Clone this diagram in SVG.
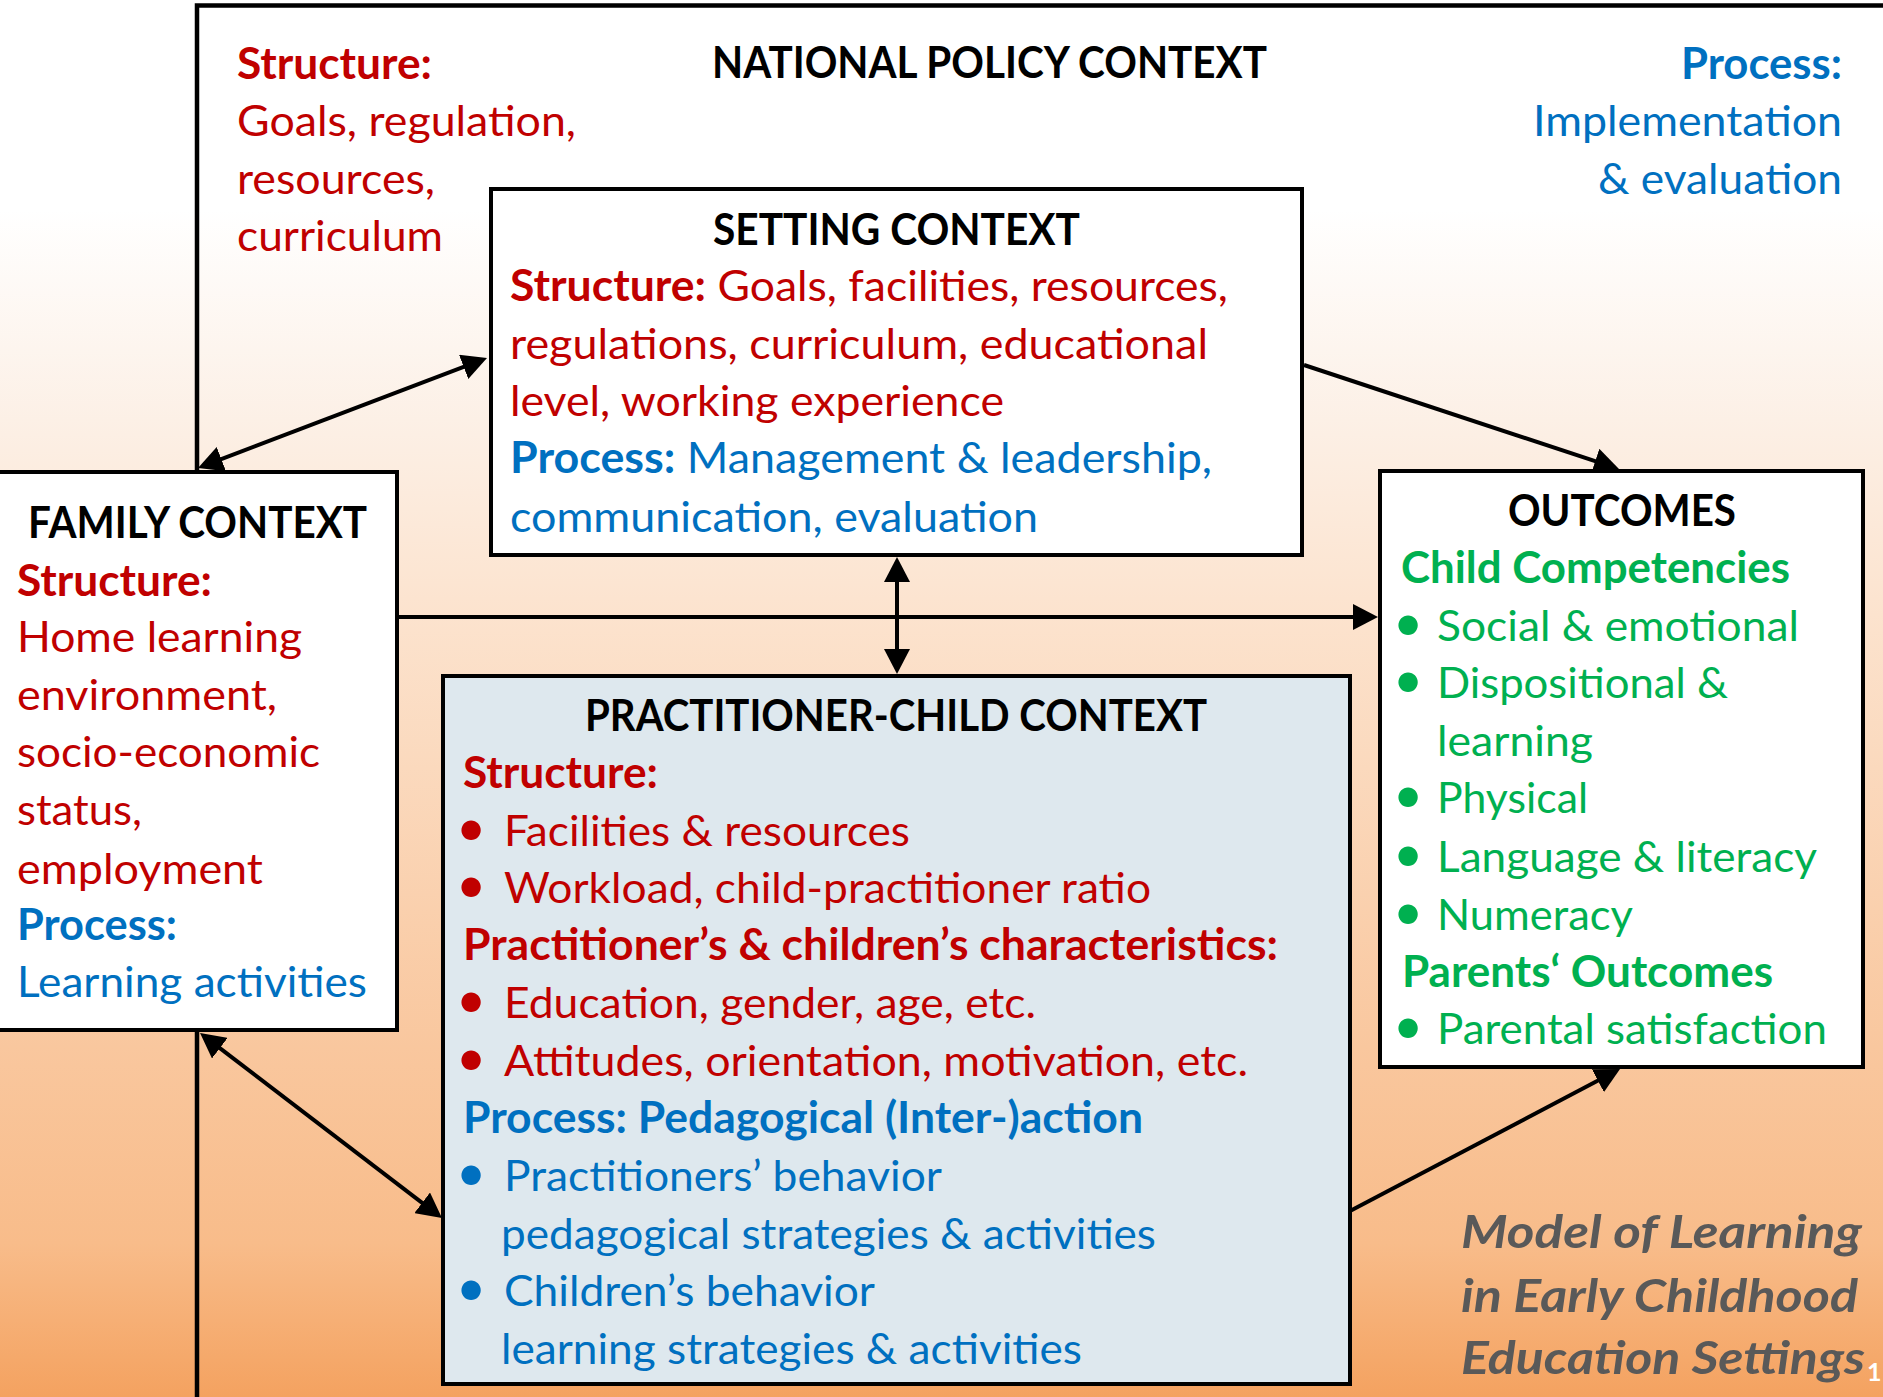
<svg xmlns="http://www.w3.org/2000/svg" width="1883" height="1397" viewBox="0 0 1883 1397">
  <defs>
    <linearGradient id="bg" x1="0" y1="0" x2="0" y2="1">
      <stop offset="0" stop-color="#FFFFFF"/>
      <stop offset="0.15" stop-color="#FFFFFF"/>
      <stop offset="0.30" stop-color="#FCF0E6"/>
      <stop offset="0.44" stop-color="#FCE3CE"/>
      <stop offset="0.75" stop-color="#F9C79E"/>
      <stop offset="0.89" stop-color="#F8BC8A"/>
      <stop offset="1" stop-color="#F4A260"/>
    </linearGradient>
    <marker id="ah" viewBox="0 0 25 26" markerWidth="25" markerHeight="26" refX="19" refY="13" orient="auto-start-reverse" markerUnits="userSpaceOnUse">
      <path d="M0,0 L25,13 L0,26 z" fill="#000"/>
    </marker>
    <style>
      .t { font-family: Lato, "Open Sans", "Liberation Sans", sans-serif; font-size: 43px; }
      .b { font-weight: 700; }
      .red { fill: #C00000; }
      .blue { fill: #0070C0; }
      .green { fill: #00B050; }
      .blk { fill: #000000; }
      .bul { font-family: Lato, "Liberation Sans", sans-serif; font-size: 52px; text-anchor: middle; }
      .cap { font-family: Lato, "Open Sans", "Liberation Sans", sans-serif; font-size: 46px; font-weight: 700; font-style: italic; fill: #595959; }
      .box { stroke: #000; stroke-width: 4; }
      .frame { fill: none; stroke: #000; stroke-width: 4.5; }
      .conn { fill: none; stroke: #000; stroke-width: 4; }
    </style>
  </defs>

  <!-- backdrop -->
  <rect x="0" y="0" width="1883" height="1397" fill="url(#bg)"/>

  <!-- national policy frame -->
  <g id="national-policy">
    <path class="frame" d="M197,1400 V5.5 H1890"/>
    <text class="t b red" x="237" y="79" textLength="195" lengthAdjust="spacingAndGlyphs">Structure:</text>
    <text class="t red" x="237" y="136" textLength="339" lengthAdjust="spacingAndGlyphs">Goals, regulation,</text>
    <text class="t red" x="237" y="194" textLength="198" lengthAdjust="spacingAndGlyphs">resources,</text>
    <text class="t red" x="237" y="251" textLength="206" lengthAdjust="spacingAndGlyphs">curriculum</text>
    <text class="t b blk" x="712" y="78" textLength="555" lengthAdjust="spacingAndGlyphs">NATIONAL POLICY CONTEXT</text>
    <text class="t b blue" x="1842" y="79" text-anchor="end" textLength="161" lengthAdjust="spacingAndGlyphs">Process:</text>
    <text class="t blue" x="1842" y="136" text-anchor="end" textLength="309" lengthAdjust="spacingAndGlyphs">Implementation</text>
    <text class="t blue" x="1842" y="194" text-anchor="end" textLength="244" lengthAdjust="spacingAndGlyphs">&amp; evaluation</text>
  </g>

  <!-- connectors -->
  <g id="connectors">
    <line class="conn" x1="203.6" y1="465.9" x2="481.4" y2="360.1" marker-start="url(#ah)" marker-end="url(#ah)"/>
    <line class="conn" x1="1304" y1="365" x2="1613.3" y2="467.1" marker-end="url(#ah)"/>
    <line class="conn" x1="397" y1="617" x2="1372" y2="617" marker-end="url(#ah)"/>
    <line class="conn" x1="897" y1="563" x2="897" y2="668" marker-start="url(#ah)" marker-end="url(#ah)"/>
    <line class="conn" x1="204.8" y1="1036.6" x2="437.2" y2="1214.4" marker-start="url(#ah)" marker-end="url(#ah)"/>
    <line class="conn" x1="1350" y1="1211" x2="1614.7" y2="1071.8" marker-end="url(#ah)"/>
  </g>

  <!-- setting context -->
  <g id="setting-context">
    <rect class="box" x="491" y="189" width="811" height="366" fill="#FFFFFF"/>
    <text class="t b blk" x="713" y="245" textLength="367" lengthAdjust="spacingAndGlyphs">SETTING CONTEXT</text>
    <text class="t red" x="510" y="301" textLength="718" lengthAdjust="spacingAndGlyphs"><tspan class="b">Structure:</tspan> Goals, facilities, resources,</text>
    <text class="t red" x="510" y="359" textLength="698" lengthAdjust="spacingAndGlyphs">regulations, curriculum, educational</text>
    <text class="t red" x="510" y="416" textLength="494" lengthAdjust="spacingAndGlyphs">level, working experience</text>
    <text class="t blue" x="510" y="473" textLength="702" lengthAdjust="spacingAndGlyphs"><tspan class="b">Process:</tspan> Management &amp; leadership,</text>
    <text class="t blue" x="510" y="532" textLength="528" lengthAdjust="spacingAndGlyphs">communication, evaluation</text>
  </g>

  <!-- family context -->
  <g id="family-context">
    <rect class="box" x="-10" y="472" width="407" height="558" fill="#FFFFFF"/>
    <text class="t b blk" x="28" y="538" textLength="339" lengthAdjust="spacingAndGlyphs">FAMILY CONTEXT</text>
    <text class="t b red" x="17" y="596" textLength="195" lengthAdjust="spacingAndGlyphs">Structure:</text>
    <text class="t red" x="17" y="652" textLength="285" lengthAdjust="spacingAndGlyphs">Home learning</text>
    <text class="t red" x="17" y="710" textLength="260" lengthAdjust="spacingAndGlyphs">environment,</text>
    <text class="t red" x="17" y="767" textLength="303" lengthAdjust="spacingAndGlyphs">socio-economic</text>
    <text class="t red" x="17" y="825" textLength="125" lengthAdjust="spacingAndGlyphs">status,</text>
    <text class="t red" x="17" y="884" textLength="246" lengthAdjust="spacingAndGlyphs">employment</text>
    <text class="t b blue" x="17" y="940" textLength="160" lengthAdjust="spacingAndGlyphs">Process:</text>
    <text class="t blue" x="17" y="997" textLength="350" lengthAdjust="spacingAndGlyphs">Learning activities</text>
  </g>

  <!-- outcomes -->
  <g id="outcomes">
    <rect class="box" x="1380" y="471" width="483" height="596" fill="#FFFFFF"/>
    <text class="t b blk" x="1508" y="526" textLength="228" lengthAdjust="spacingAndGlyphs">OUTCOMES</text>
    <text class="t b green" x="1401" y="583" textLength="389" lengthAdjust="spacingAndGlyphs">Child Competencies</text>
    <text class="bul green" x="1408" y="641">•</text>
    <text class="t green" x="1437" y="641" textLength="362" lengthAdjust="spacingAndGlyphs">Social &amp; emotional</text>
    <text class="bul green" x="1408" y="698">•</text>
    <text class="t green" x="1437" y="698" textLength="291" lengthAdjust="spacingAndGlyphs">Dispositional &amp;</text>
    <text class="t green" x="1437" y="756" textLength="156" lengthAdjust="spacingAndGlyphs">learning</text>
    <text class="bul green" x="1408" y="813">•</text>
    <text class="t green" x="1437" y="813" textLength="151" lengthAdjust="spacingAndGlyphs">Physical</text>
    <text class="bul green" x="1408" y="872">•</text>
    <text class="t green" x="1437" y="872" textLength="380" lengthAdjust="spacingAndGlyphs">Language &amp; literacy</text>
    <text class="bul green" x="1408" y="930">•</text>
    <text class="t green" x="1437" y="930" textLength="196" lengthAdjust="spacingAndGlyphs">Numeracy</text>
    <text class="t b green" x="1402" y="987" textLength="371" lengthAdjust="spacingAndGlyphs">Parents‘ Outcomes</text>
    <text class="bul green" x="1408" y="1044">•</text>
    <text class="t green" x="1437" y="1044" textLength="390" lengthAdjust="spacingAndGlyphs">Parental satisfaction</text>
  </g>

  <!-- practitioner-child context -->
  <g id="practitioner-child-context">
    <rect class="box" x="443" y="676" width="907" height="708" fill="#DEE8EE"/>
    <text class="t b blk" x="585" y="731" textLength="622" lengthAdjust="spacingAndGlyphs">PRACTITIONER-CHILD CONTEXT</text>
    <text class="t b red" x="463" y="788" textLength="195" lengthAdjust="spacingAndGlyphs">Structure:</text>
    <text class="bul red" x="471" y="846">•</text>
    <text class="t red" x="504" y="846" textLength="406" lengthAdjust="spacingAndGlyphs">Facilities &amp; resources</text>
    <text class="bul red" x="471" y="903">•</text>
    <text class="t red" x="504" y="903" textLength="647" lengthAdjust="spacingAndGlyphs">Workload, child-practitioner ratio</text>
    <text class="t b red" x="463" y="960" textLength="815" lengthAdjust="spacingAndGlyphs">Practitioner’s &amp; children’s characteristics:</text>
    <text class="bul red" x="471" y="1018">•</text>
    <text class="t red" x="504" y="1018" textLength="532" lengthAdjust="spacingAndGlyphs">Education, gender, age, etc.</text>
    <text class="bul red" x="471" y="1076">•</text>
    <text class="t red" x="504" y="1076" textLength="744" lengthAdjust="spacingAndGlyphs">Attitudes, orientation, motivation, etc.</text>
    <text class="t b blue" x="463" y="1133" textLength="680" lengthAdjust="spacingAndGlyphs">Process: Pedagogical (Inter-)action</text>
    <text class="bul blue" x="471" y="1191">•</text>
    <text class="t blue" x="504" y="1191" textLength="438" lengthAdjust="spacingAndGlyphs">Practitioners’ behavior</text>
    <text class="t blue" x="501" y="1249" textLength="655" lengthAdjust="spacingAndGlyphs">pedagogical strategies &amp; activities</text>
    <text class="bul blue" x="471" y="1306">•</text>
    <text class="t blue" x="504" y="1306" textLength="371" lengthAdjust="spacingAndGlyphs">Children’s behavior</text>
    <text class="t blue" x="501" y="1364" textLength="581" lengthAdjust="spacingAndGlyphs">learning strategies &amp; activities</text>
  </g>

  <!-- model title -->
  <g id="model-title">
    <text class="cap" x="1461" y="1248" textLength="401" lengthAdjust="spacingAndGlyphs">Model of Learning</text>
    <text class="cap" x="1461" y="1312" textLength="397" lengthAdjust="spacingAndGlyphs">in Early Childhood</text>
    <text class="cap" x="1461" y="1374" textLength="404" lengthAdjust="spacingAndGlyphs">Education Settings</text>
    <text x="1867" y="1381" font-family="Lato, 'Liberation Sans', sans-serif" font-size="25" font-weight="700" fill="#FFFFFF">1</text>
  </g>
</svg>
